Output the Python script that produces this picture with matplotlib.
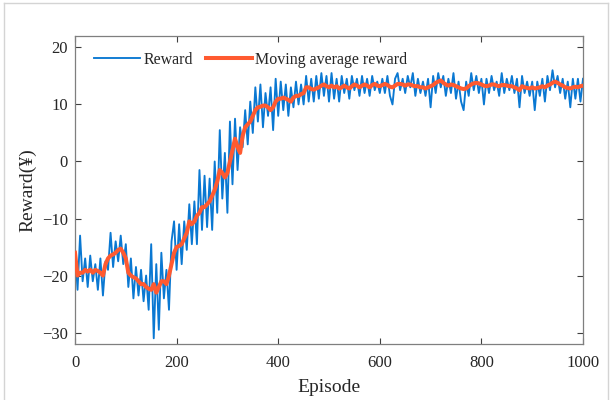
import numpy as np
import matplotlib
matplotlib.use("Agg")
import matplotlib.pyplot as plt
from matplotlib.lines import Line2D

# ---------------- data ----------------
episodes = list(range(0, 1001, 5))

reward = [
    # 0 - 100
    -15.5, -22.5, -13, -21, -17, -22, -16.5, -21, -18, -22.5, -17, -23.5, -17.5, -19, -12.5, -18.5, -14, -17.5, -13, -18, -14.5,
    # 105 - 200
    -22, -17, -24, -18.5, -23.5, -19, -24.5, -20, -26, -14.5, -31, -18, -29.5, -16, -24, -19, -26, -14, -10.5, -19,
    # 205 - 300
    -11, -18, -10.5, -15.5, -7.5, -14.5, -7, -14.5, -1.5, -12, -2.5, -11.5, -3, -12, 0, -9, 5.5, -6.5, 1.5, -9,
    # 305 - 400
    7, -4, 7.5, -1.5, 6, 2.5, 9, 3, 10.5, 5, 13, 7, 13.5, 6, 12, 8, 13, 5.5, 14.5, 8,
    # 405 - 500
    14, 9, 13.5, 8, 13, 9.5, 14, 10, 13.5, 10, 15, 10.5, 14.5, 10.5, 15, 11, 15.5, 11.5, 15, 10.5,
    # 505 - 600
    15.5, 11, 14.5, 10.5, 15, 12, 14.5, 11, 15, 12.5, 14.5, 11.5, 15, 12, 14.5, 11.5, 15, 12.5, 14, 12,
    # 605 - 700
    14.5, 12, 15, 11.5, 10, 14.5, 15.5, 12.5, 14.5, 12, 15, 13, 15.5, 11.5, 14.5, 12, 14, 11.5, 14.5, 9.5,
    # 705 - 800
    15, 12, 15.5, 13, 15, 11.5, 14.5, 12, 15.5, 11, 14, 10.5, 9, 14, 11.5, 15.5, 12.5, 15, 12, 14.5,
    # 805 - 900
    10, 14.5, 12, 15, 12.5, 14, 11.5, 15.5, 12, 14.5, 12.5, 15, 12, 14.5, 9.5, 15, 12, 14, 11.5, 14,
    # 905 - 1000
    9, 14, 11.5, 14.5, 10.5, 15, 12.5, 16, 13, 15, 12, 14.5, 11, 14, 9.5, 14.5, 11, 14.5, 10.5, 14.5,
]

moving_avg = [
    # 0 - 100
    -16, -20, -19.5, -19.5, -19, -19.3, -19, -19.5, -19, -19.2, -19.5, -20, -18, -17, -16.5, -16.3, -16, -15.5, -15.3, -16, -17,
    # 105 - 200
    -19.5, -20, -20.3, -20.5, -21, -21.5, -21.5, -22, -22.3, -22.5, -21.5, -23, -22, -21, -21, -21.5, -20, -18, -16, -15,
    # 205 - 300
    -14.8, -14.5, -13.5, -12.5, -10.5, -11, -10.5, -9.5, -9, -8, -8, -7.5, -7, -6, -5, -3.5, -1.5, -2, -2.8, -2,
    # 305 - 400
    0, 2, 4, 2.5, 1.5, 4.5, 6, 6.5, 7, 8, 9, 9.5, 9.6, 9.8, 9.8, 9.5, 9, 9.5, 10.5, 11,
    # 405 - 500
    11, 11.2, 11, 10.8, 10.5, 11.2, 11.5, 11.5, 11.8, 12, 13, 13, 12.7, 12.6, 12.8, 13, 13.3, 13.5, 13.2, 13,
    # 505 - 600
    13.3, 13, 13.2, 12.8, 13, 13.3, 13, 12.8, 13.2, 13.5, 13.3, 13, 13.3, 13.5, 13.3, 13, 13.4, 13.6, 13.3, 13.2,
    # 605 - 700
    13.4, 13.6, 13.4, 13.1, 13, 13.3, 13.6, 13.6, 13.5, 13.3, 13.5, 13.5, 13.3, 13.2, 13.2, 13, 13, 12.8, 13, 13.2,
    # 705 - 800
    13.4, 13.8, 14, 14.2, 13.8, 13.5, 13.3, 13.5, 13.4, 13.2, 13, 12.8, 12.7, 12.8, 13.2, 13.5, 13.7, 13.8, 13.7, 13.5,
    # 805 - 900
    13.3, 13.2, 13.3, 13.5, 13.5, 13.3, 13.2, 13.4, 13.4, 13.3, 13.2, 13.2, 13, 12.8, 12.5, 13.2, 13, 12.9, 12.8, 13,
    # 905 - 1000
    12.8, 12.9, 13, 13.2, 13, 13.3, 13.5, 13.8, 14, 13.8, 13.5, 13.3, 13, 12.9, 12.8, 13, 13.1, 13, 13.2, 13.3,
]

x_ticks = [0, 200, 400, 600, 800, 1000]
y_ticks = [-30, -20, -10, 0, 10, 20]

# ---------------- figure ----------------
plt.rcParams['font.family'] = ['Liberation Serif', 'DejaVu Serif']

fig = plt.figure(figsize=(6.12, 4.0), dpi=100)
ax = fig.add_axes([75 / 612, 56 / 400, 508 / 612, 308 / 400])

ax.plot(episodes, reward, color='#0A78D2', lw=1.35, label='Reward', zorder=2)
ax.plot(episodes, moving_avg, color='#FF5A30', lw=2.9, label='Moving average reward',
        zorder=3, solid_joinstyle='round')

ax.set_xlim(0, 1000)
ax.set_ylim(-32, 22)
ax.set_xticks(x_ticks)
ax.set_yticks(y_ticks)

ax.tick_params(direction='in', top=True, right=True, length=4, width=0.8,
               colors='#404040', labelcolor='#262626', labelsize=12)
ax.tick_params(axis='y', pad=5)
ax.tick_params(axis='x', pad=8)
for s in ax.spines.values():
    s.set_color('#7f7f7f')
    s.set_linewidth(0.9)

ax.set_xlabel('Episode', fontsize=14, color='#262626', labelpad=6)
ax.set_ylabel('Reward(¥)', fontsize=14, color='#262626', labelpad=4)

leg = ax.legend(loc='center left', bbox_to_anchor=(0.037, 0.922), ncol=2, frameon=False,
                fontsize=11.5, handlelength=2.9, handletextpad=0.2, columnspacing=0.8,
                borderaxespad=0, borderpad=0)
for t in leg.get_texts():
    t.set_color('#262626')

# light gray outer frame of the picture
for (xs, ys) in [([4, 4], [0, 397]), ([4, 608], [397, 397]), ([608, 608], [0, 397])]:
    fig.add_artist(Line2D([x / 612 for x in xs], [y / 400 for y in ys],
                          color='#d4d4d4', lw=1.0))

fig.savefig('out.png', dpi=100)
